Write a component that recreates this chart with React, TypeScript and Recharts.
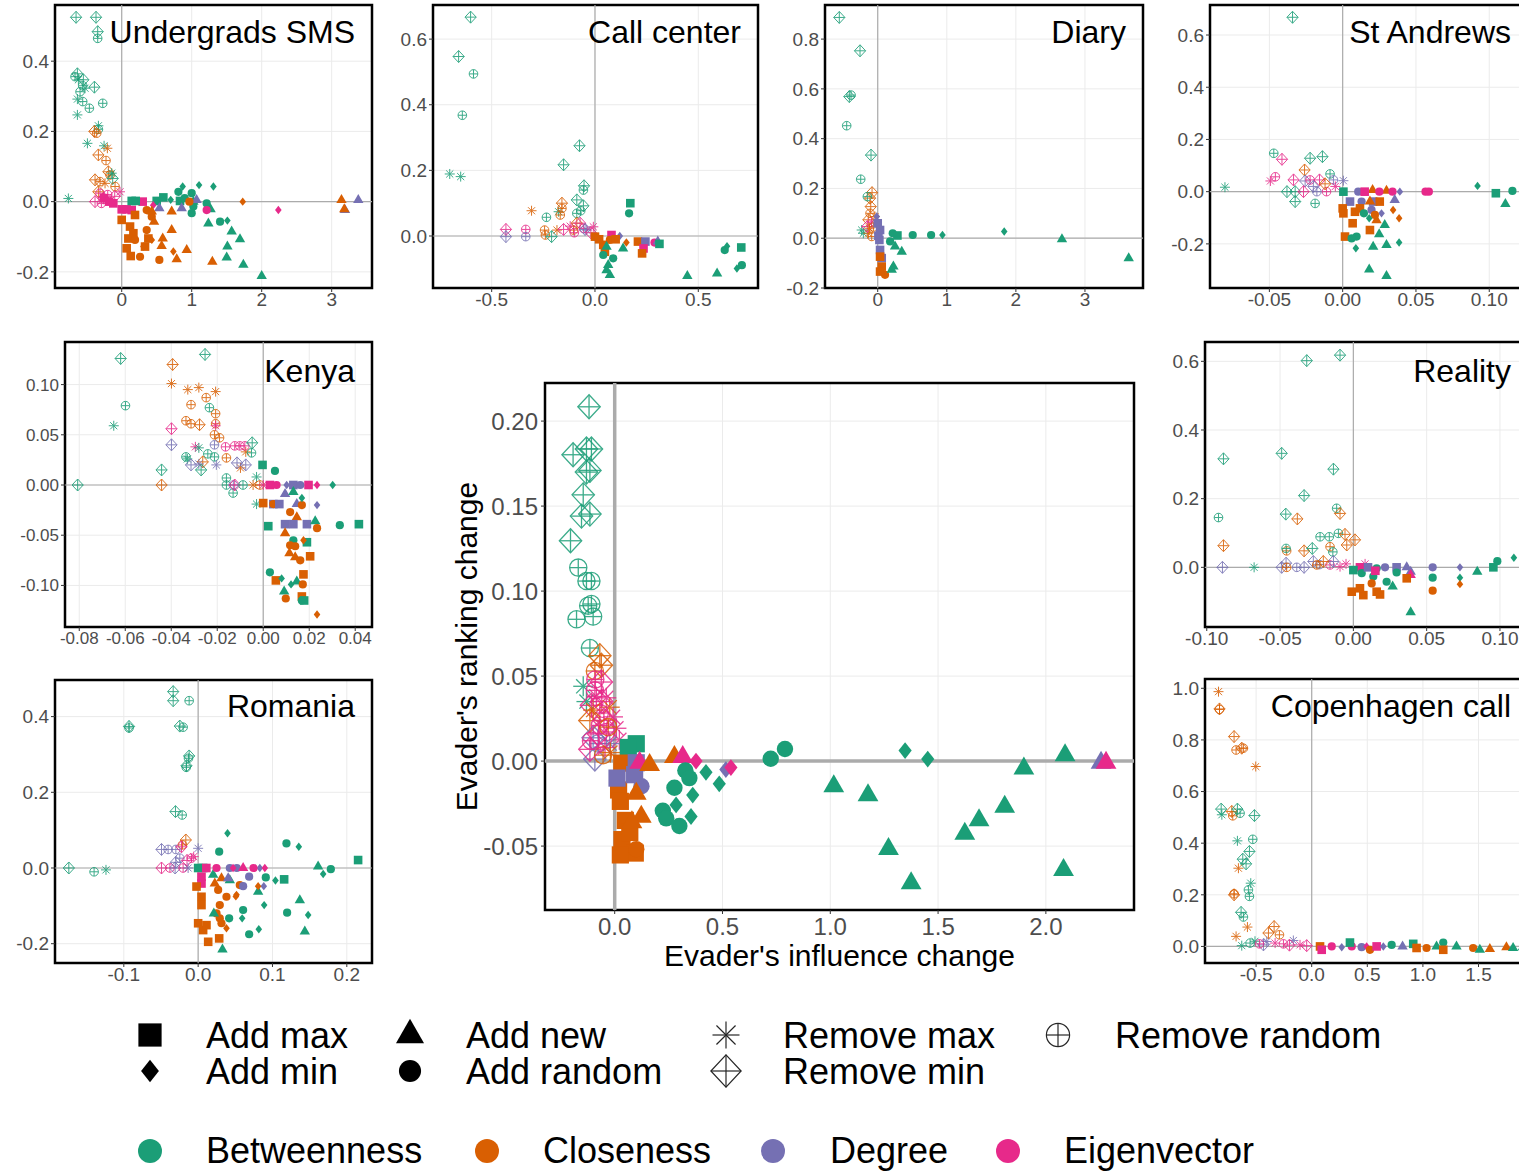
import React from 'react';
import { ScatterChart, Scatter, XAxis, YAxis, CartesianGrid, ReferenceLine, ReferenceArea, Label } from 'recharts';

type Pt = [number, number, string, string];

// centrality colours
const COLORS: Record<string, string> = { B: '#1B9E77', C: '#D95F02', D: '#7570B3', E: '#E7298A' };
// sq add max, di add min, tr add new, ci add random, as remove max, dp remove min, cp remove random
const actionNames = ['Add max', 'Add min', 'Add new', 'Add random', 'Remove max', 'Remove min', 'Remove random'];
const actionShapes = ['sq', 'di', 'tr', 'ci', 'as', 'dp', 'cp'];
const centralityNames = ['Betweenness', 'Closeness', 'Degree', 'Eigenvector'];
const centralityKeys = ['B', 'C', 'D', 'E'];

const undergradsSms: Pt[] = [
  [-0.652, 0.525, 'dp', 'B'], [-0.367, 0.525, 'dp', 'B'], [-0.343, 0.484, 'dp', 'B'], [-0.343, 0.465, 'cp', 'B'],
  [-0.633, 0.364, 'dp', 'B'], [-0.667, 0.356, 'cp', 'B'], [-0.619, 0.347, 'as', 'B'], [-0.548, 0.347, 'dp', 'B'],
  [-0.557, 0.33, 'cp', 'B'], [-0.39, 0.326, 'dp', 'B'], [-0.524, 0.323, 'as', 'B'], [-0.595, 0.313, 'cp', 'B'],
  [-0.633, 0.292, 'as', 'B'], [-0.557, 0.285, 'cp', 'B'], [-0.462, 0.266, 'cp', 'B'], [-0.271, 0.28, 'cp', 'B'],
  [-0.633, 0.247, 'as', 'B'], [-0.333, 0.216, 'as', 'B'], [-0.333, 0.206, 'cp', 'B'], [-0.49, 0.166, 'as', 'B'],
  [-0.252, 0.159, 'as', 'B'], [-0.39, 0.2, 'dp', 'C'], [-0.357, 0.195, 'cp', 'C'], [-0.205, 0.152, 'as', 'C'],
  [-0.333, 0.133, 'dp', 'C'], [-0.224, 0.117, 'cp', 'C'], [-0.19, 0.085, 'dp', 'C'], [-0.167, 0.076, 'cp', 'C'],
  [-0.143, 0.081, 'as', 'B'], [-0.129, 0.066, 'dp', 'B'], [-0.381, 0.062, 'dp', 'C'], [-0.31, 0.057, 'cp', 'C'],
  [-0.238, 0.052, 'as', 'C'], [-0.333, 0.028, 'dp', 'C'], [-0.095, 0.043, 'cp', 'C'], [-0.762, 0.009, 'as', 'B'],
  [-0.381, 0, 'dp', 'E'], [-0.31, 0.024, 'cp', 'E'], [-0.024, 0.028, 'as', 'E'], [-0.26, 0.01, 'dp', 'E'],
  [-0.2, 0.02, 'cp', 'E'], [-0.15, 0.005, 'as', 'E'], [-0.1, 0.015, 'dp', 'E'], [-0.29, -0.005, 'cp', 'E'],
  [-0.25, 0.01, 'sq', 'E'], [-0.18, 0, 'sq', 'E'], [-0.12, -0.005, 'sq', 'E'], [0, -0.022, 'sq', 'E'],
  [0.07, -0.022, 'sq', 'E'], [0.143, -0.024, 'sq', 'E'], [0.3, 0, 'sq', 'E'],
  [0.143, 0.002, 'sq', 'B'], [0.2, 0.002, 'sq', 'B'], [0.5, 0.002, 'sq', 'B'], [0.595, 0.012, 'sq', 'B'], [0.833, 0.002, 'sq', 'B'],
  [0.81, 0.028, 'ci', 'B'], [1.0, 0.024, 'ci', 'B'], [1.024, -0.014, 'ci', 'B'], [1.0, -0.033, 'ci', 'B'],
  [1.214, -0.005, 'ci', 'B'], [1.405, -0.057, 'ci', 'B'], [0.9, 0.01, 'ci', 'B'],
  [0.871, 0.043, 'di', 'B'], [1.105, 0.047, 'di', 'B'], [1.31, 0.043, 'di', 'B'], [1.51, -0.054, 'di', 'B'], [0.7, 0.005, 'di', 'B'],
  [1.024, 0, 'tr', 'B'], [1.27, -0.022, 'tr', 'B'], [1.238, -0.062, 'tr', 'B'], [1.571, -0.085, 'tr', 'B'],
  [1.69, -0.107, 'tr', 'B'], [1.51, -0.128, 'tr', 'B'], [1.5, -0.159, 'tr', 'B'], [1.738, -0.18, 'tr', 'B'], [2.0, -0.212, 'tr', 'B'],
  [1.07, 0.005, 'tr', 'D'], [0.857, -0.019, 'tr', 'D'], [0.538, -0.019, 'tr', 'D'], [3.19, -0.024, 'tr', 'D'], [3.38, 0.005, 'tr', 'D'],
  [0.967, 0, 'ci', 'C'], [1.729, 0, 'di', 'C'], [3.14, 0.005, 'tr', 'C'], [3.18, -0.022, 'tr', 'C'],
  [2.238, -0.024, 'di', 'E'], [1.214, -0.024, 'ci', 'E'], [0.45, -0.01, 'di', 'E'],
  [0, -0.052, 'sq', 'C'], [0.119, -0.071, 'sq', 'C'], [0.167, -0.09, 'sq', 'C'], [0.095, -0.105, 'sq', 'C'],
  [0.071, -0.133, 'sq', 'C'], [0.129, -0.155, 'sq', 'C'], [0.19, -0.038, 'sq', 'C'], [0.333, -0.128, 'sq', 'C'], [0.381, -0.105, 'sq', 'C'],
  [0.19, -0.109, 'ci', 'C'], [0.262, -0.157, 'ci', 'C'], [0.357, -0.024, 'ci', 'C'], [0.357, -0.081, 'ci', 'C'],
  [0.538, -0.166, 'ci', 'C'], [0.429, -0.043, 'ci', 'C'],
  [0.31, -0.128, 'di', 'C'], [0.43, -0.109, 'di', 'C'], [0.738, -0.142, 'di', 'C'],
  [0.462, -0.057, 'tr', 'C'], [0.586, -0.105, 'tr', 'C'], [0.571, -0.126, 'tr', 'C'], [0.714, -0.028, 'tr', 'C'],
  [0.714, -0.081, 'tr', 'C'], [0.786, -0.164, 'tr', 'C'], [0.929, -0.138, 'tr', 'C'], [1.295, -0.171, 'tr', 'C'], [0.43, -0.028, 'tr', 'C'],
];

const callCenter: Pt[] = [
  [-0.602, 0.667, 'dp', 'B'], [-0.66, 0.547, 'dp', 'B'], [-0.588, 0.494, 'cp', 'B'], [-0.642, 0.368, 'cp', 'B'],
  [-0.703, 0.189, 'as', 'B'], [-0.65, 0.181, 'as', 'B'],
  [-0.075, 0.275, 'dp', 'B'], [-0.152, 0.217, 'dp', 'B'], [-0.053, 0.153, 'dp', 'B'], [-0.056, 0.14, 'cp', 'B'],
  [-0.088, 0.11, 'dp', 'B'], [-0.056, 0.092, 'dp', 'B'], [-0.069, 0.077, 'cp', 'B'], [-0.088, 0.069, 'cp', 'B'],
  [-0.235, 0.057, 'cp', 'B'], [-0.176, 0.074, 'as', 'B'],
  [-0.307, 0.077, 'as', 'C'], [-0.16, 0.1, 'dp', 'C'], [-0.16, 0.084, 'cp', 'C'], [-0.168, 0.064, 'cp', 'C'],
  [-0.184, 0.018, 'as', 'C'], [-0.088, 0.039, 'dp', 'C'], [-0.104, 0.018, 'cp', 'C'],
  [-0.431, 0.02, 'dp', 'E'], [-0.431, -0.002, 'dp', 'D'], [-0.335, 0.02, 'cp', 'E'], [-0.335, -0.002, 'cp', 'D'],
  [-0.244, 0.018, 'cp', 'C'], [-0.24, 0.003, 'cp', 'C'], [-0.21, -0.002, 'dp', 'B'], [-0.152, 0.02, 'dp', 'E'],
  [-0.008, 0.028, 'as', 'E'], [-0.072, 0.039, 'dp', 'E'], [-0.056, 0.023, 'cp', 'E'], [-0.048, 0.02, 'dp', 'D'],
  [-0.04, 0.018, 'as', 'D'], [-0.1, 0.01, 'cp', 'E'], [-0.02, 0.01, 'dp', 'E'], [-0.12, 0.03, 'as', 'E'],
  [0, -0.002, 'sq', 'C'], [0.04, -0.027, 'sq', 'C'], [0.048, -0.048, 'sq', 'C'], [0.08, 0.003, 'sq', 'E'],
  [0.072, -0.012, 'ci', 'C'], [0.12, 0, 'di', 'D'], [0.152, -0.02, 'di', 'C'], [0.056, -0.033, 'tr', 'B'],
  [0.136, -0.038, 'tr', 'B'], [0.04, -0.058, 'ci', 'B'], [0.088, -0.068, 'ci', 'B'], [0.064, -0.088, 'tr', 'B'],
  [0.056, -0.104, 'tr', 'B'], [0.072, -0.119, 'tr', 'B'], [0.1, -0.01, 'sq', 'C'], [0.02, -0.01, 'sq', 'C'],
  [0.208, -0.017, 'sq', 'C'], [0.244, -0.017, 'sq', 'D'], [0.235, -0.038, 'sq', 'E'], [0.228, -0.053, 'sq', 'C'],
  [0.288, -0.02, 'ci', 'E'], [0.304, -0.017, 'tr', 'D'], [0.312, -0.024, 'sq', 'B'],
  [0.171, 0.1, 'sq', 'B'], [0.165, 0.069, 'ci', 'B'],
  [0.447, -0.122, 'tr', 'B'], [0.591, -0.114, 'tr', 'B'], [0.628, -0.043, 'ci', 'B'], [0.639, -0.031, 'di', 'B'],
  [0.708, -0.035, 'sq', 'B'], [0.711, -0.089, 'ci', 'B'], [0.687, -0.099, 'di', 'B'],
];

const diary: Pt[] = [
  [-0.556, 0.887, 'dp', 'B'], [-0.256, 0.753, 'dp', 'B'], [-0.411, 0.569, 'dp', 'B'], [-0.386, 0.575, 'cp', 'B'],
  [-0.449, 0.452, 'cp', 'B'], [-0.097, 0.334, 'dp', 'B'], [-0.246, 0.237, 'cp', 'B'],
  [-0.082, 0.183, 'dp', 'C'], [-0.111, 0.161, 'dp', 'C'], [-0.15, 0.167, 'cp', 'B'],
  [-0.101, 0.127, 'dp', 'C'], [-0.111, 0.1, 'cp', 'C'], [-0.039, 0.087, 'as', 'C'], [-0.135, 0.074, 'dp', 'C'],
  [-0.232, 0.033, 'as', 'B'], [-0.208, 0.02, 'as', 'B'], [-0.135, 0.02, 'as', 'C'], [-0.087, 0.007, 'cp', 'C'],
  [-0.15, 0.047, 'dp', 'E'], [-0.09, 0.065, 'as', 'E'], [-0.06, 0.045, 'cp', 'C'], [-0.12, 0.04, 'as', 'C'],
  [0.034, 0.033, 'sq', 'D'], [0.024, -0.007, 'sq', 'D'], [0.034, -0.047, 'sq', 'D'], [-0.014, 0.087, 'di', 'D'],
  [0.058, -0.08, 'sq', 'D'], [0.0, 0.06, 'sq', 'D'], [0.01, 0.01, 'sq', 'D'],
  [0.034, -0.074, 'sq', 'C'], [0.058, -0.114, 'sq', 'C'], [0.106, -0.147, 'ci', 'C'], [0.034, -0.134, 'sq', 'C'],
  [0.217, 0.02, 'ci', 'B'], [0.285, 0.011, 'sq', 'B'], [0.507, 0.013, 'ci', 'B'], [0.773, 0.013, 'ci', 'B'],
  [0.937, 0.013, 'di', 'B'], [1.831, 0.027, 'di', 'B'], [2.667, -0.004, 'tr', 'B'], [3.633, -0.08, 'tr', 'B'],
  [0.227, -0.114, 'tr', 'B'], [0.203, -0.127, 'tr', 'B'], [0.348, -0.054, 'tr', 'B'], [0.251, -0.033, 'tr', 'B'],
  [0.179, -0.013, 'ci', 'B'],
];

const stAndrews: Pt[] = [
  [-0.0342, 0.668, 'dp', 'B'], [-0.0803, 0.017, 'as', 'B'],
  [-0.047, 0.147, 'cp', 'B'], [-0.0414, 0.124, 'dp', 'E'], [-0.0459, 0.057, 'cp', 'E'], [-0.0493, 0.041, 'as', 'E'],
  [-0.0335, 0.045, 'dp', 'E'], [-0.038, 0, 'dp', 'B'], [-0.0324, 0, 'dp', 'B'], [-0.0324, -0.038, 'dp', 'B'],
  [-0.0188, -0.045, 'cp', 'B'], [-0.026, 0.083, 'dp', 'C'], [-0.0222, 0.128, 'dp', 'B'], [-0.0138, 0.134, 'dp', 'B'],
  [-0.0086, 0.068, 'cp', 'B'], [-0.0256, 0.041, 'dp', 'D'], [-0.0222, 0.045, 'cp', 'E'], [-0.0158, 0.045, 'dp', 'E'],
  [-0.0063, 0.045, 'cp', 'D'], [0.0005, 0.042, 'as', 'D'], [-0.0267, 0, 'dp', 'E'], [-0.0176, 0, 'cp', 'D'],
  [-0.011, 0, 'cp', 'E'], [-0.02, 0.02, 'dp', 'D'], [-0.005, 0.02, 'as', 'E'], [-0.012, 0.03, 'dp', 'C'],
  [0.0005, 0, 'sq', 'B'], [0.0106, 0, 'ci', 'D'], [0.0204, 0.006, 'tr', 'C'], [0.0299, 0.004, 'tr', 'C'],
  [0.034, 0, 'ci', 'E'], [0.039, 0, 'di', 'D'], [0.0588, 0, 'ci', 'E'], [0.0565, 0, 'ci', 'E'], [0.015, 0, 'sq', 'E'], [0.025, 0, 'ci', 'E'],
  [0.092, 0.022, 'di', 'B'], [0.1045, -0.006, 'sq', 'B'], [0.1158, 0.003, 'ci', 'B'], [0.111, -0.047, 'tr', 'B'],
  [0.005, -0.038, 'sq', 'D'], [0.0129, -0.038, 'ci', 'D'], [0.0208, -0.038, 'sq', 'D'], [0.0355, -0.032, 'tr', 'D'],
  [0.0265, -0.083, 'di', 'D'], [0.0197, -0.07, 'ci', 'D'],
  [0, -0.064, 'sq', 'C'], [0.0005, -0.083, 'sq', 'C'], [0.0084, -0.077, 'sq', 'C'], [0.0068, -0.121, 'sq', 'C'],
  [0.0186, -0.147, 'sq', 'C'], [0.0016, -0.172, 'sq', 'C'], [0.0118, -0.064, 'sq', 'C'], [0.0186, -0.038, 'tr', 'C'],
  [0.0231, -0.109, 'tr', 'C'], [0.0344, -0.07, 'di', 'C'], [0.0385, -0.102, 'di', 'C'], [0.022, -0.089, 'ci', 'C'],
  [0.0253, -0.038, 'sq', 'C'],
  [0.0095, -0.172, 'ci', 'B'], [0.0061, -0.179, 'ci', 'B'], [0.009, -0.217, 'di', 'B'], [0.0208, -0.211, 'tr', 'B'],
  [0.0299, -0.204, 'tr', 'B'], [0.0385, -0.195, 'di', 'B'], [0.0181, -0.298, 'tr', 'B'], [0.0299, -0.323, 'tr', 'B'],
  [0.0249, -0.163, 'tr', 'B'], [0.0287, -0.128, 'tr', 'B'], [0.0181, -0.102, 'di', 'B'], [0.0145, -0.083, 'ci', 'B'],
];

const kenya: Pt[] = [
  [-0.0807, 0, 'dp', 'B'], [-0.062, 0.126, 'dp', 'B'], [-0.0599, 0.079, 'cp', 'B'], [-0.065, 0.059, 'as', 'B'],
  [-0.0253, 0.13, 'dp', 'B'],
  [-0.0394, 0.12, 'dp', 'C'], [-0.0399, 0.101, 'as', 'C'], [-0.0328, 0.095, 'as', 'C'], [-0.028, 0.097, 'as', 'C'],
  [-0.0207, 0.093, 'as', 'C'], [-0.0248, 0.087, 'cp', 'C'], [-0.0314, 0.08, 'cp', 'C'], [-0.0207, 0.071, 'cp', 'C'],
  [-0.0336, 0.064, 'cp', 'C'], [-0.0314, 0.061, 'cp', 'C'], [-0.0277, 0.06, 'dp', 'C'], [-0.0207, 0.061, 'cp', 'C'],
  [-0.0212, 0.05, 'cp', 'C'], [-0.019, 0.047, 'cp', 'C'], [-0.016, 0.027, 'cp', 'C'], [-0.0099, 0.017, 'as', 'C'],
  [-0.0076, 0.033, 'as', 'C'], [-0.0442, 0, 'dp', 'C'], [-0.0263, 0.023, 'dp', 'C'],
  [-0.0399, 0.056, 'dp', 'E'], [-0.0207, 0.059, 'as', 'E'], [-0.0295, 0.038, 'as', 'E'], [-0.0164, 0.038, 'cp', 'E'],
  [-0.0124, 0.039, 'cp', 'E'], [-0.0102, 0.039, 'cp', 'E'], [-0.008, 0.039, 'cp', 'E'],
  [-0.0234, 0.077, 'cp', 'B'], [-0.0336, 0.028, 'cp', 'B'], [-0.033, 0.026, 'as', 'B'], [-0.0241, 0.031, 'cp', 'B'],
  [-0.0212, 0.028, 'cp', 'B'], [-0.027, 0.015, 'dp', 'B'], [-0.0442, 0.015, 'dp', 'B'], [-0.0051, 0.032, 'cp', 'B'],
  [-0.0048, 0.042, 'dp', 'B'], [-0.016, 0.007, 'cp', 'B'], [-0.0131, -0.008, 'cp', 'B'], [-0.0029, 0.008, 'as', 'B'],
  [-0.0029, -0.019, 'as', 'B'], [-0.028, 0.037, 'as', 'B'],
  [-0.0399, 0.04, 'dp', 'D'], [-0.0212, 0.04, 'cp', 'D'], [-0.0204, 0.02, 'as', 'D'], [-0.0314, 0.02, 'dp', 'D'],
  [-0.028, 0.021, 'as', 'D'], [-0.0114, 0.022, 'dp', 'D'], [-0.0076, 0.02, 'dp', 'D'],
  [-0.016, 0, 'cp', 'B'], [-0.013, 0, 'cp', 'D'], [-0.0124, 0, 'dp', 'E'], [-0.0088, 0, 'cp', 'B'],
  [-0.0044, 0, 'as', 'C'], [-0.0015, 0, 'cp', 'C'], [0, 0, 'as', 'E'],
  [0.0029, 0, 'sq', 'E'], [0.0058, 0, 'ci', 'E'], [0.0102, 0, 'di', 'D'], [0.0131, 0, 'sq', 'D'], [0.0161, 0, 'ci', 'D'],
  [0.0197, 0, 'sq', 'E'], [0.0234, 0, 'di', 'E'], [0.0302, 0, 'di', 'B'],
  [-0.0003, 0.02, 'sq', 'B'], [0.0051, 0.014, 'ci', 'B'],
  [0, -0.018, 'sq', 'C'], [0.0044, -0.019, 'sq', 'D'], [0.0095, -0.009, 'tr', 'D'], [0.0146, -0.019, 'tr', 'D'],
  [0.0234, -0.02, 'di', 'D'], [0.0044, -0.019, 'ci', 'C'], [0.0131, -0.007, 'tr', 'B'], [0.0117, -0.027, 'ci', 'C'],
  [0.0146, -0.032, 'tr', 'C'], [0.0168, -0.02, 'ci', 'C'], [0.0168, -0.013, 'di', 'B'], [0.007, -0.019, 'sq', 'D'],
  [0.0095, -0.039, 'sq', 'D'], [0.0131, -0.039, 'sq', 'D'], [0.019, -0.039, 'sq', 'D'], [0.0226, -0.036, 'tr', 'B'],
  [0.0234, -0.043, 'ci', 'C'], [0.0333, -0.04, 'ci', 'B'], [0.0416, -0.039, 'sq', 'B'], [0.0022, -0.041, 'sq', 'B'],
  [0.0095, -0.048, 'tr', 'C'], [0.0131, -0.055, 'ci', 'B'], [0.019, -0.057, 'sq', 'B'], [0.0175, -0.055, 'di', 'C'],
  [0.0117, -0.06, 'ci', 'C'], [0.0139, -0.061, 'ci', 'C'], [0.0114, -0.068, 'tr', 'C'], [0.0161, -0.075, 'ci', 'C'],
  [0.0139, -0.072, 'tr', 'C'], [0.0204, -0.071, 'sq', 'C'],
  [0.0175, -0.089, 'sq', 'C'], [0.0029, -0.087, 'ci', 'B'], [0.0055, -0.095, 'sq', 'C'], [0.008, -0.093, 'di', 'B'],
  [0.0121, -0.099, 'di', 'B'], [0.0146, -0.096, 'tr', 'B'], [0.0172, -0.099, 'ci', 'C'], [0.0091, -0.106, 'tr', 'B'],
  [0.0098, -0.113, 'ci', 'C'], [0.0168, -0.111, 'sq', 'C'], [0.0168, -0.115, 'ci', 'B'], [0.0178, -0.115, 'sq', 'B'],
  [0.0234, -0.129, 'di', 'C'],
];

const romania: Pt[] = [
  [-0.174, 0, 'dp', 'B'], [-0.14, -0.01, 'cp', 'B'], [-0.124, -0.005, 'as', 'B'],
  [-0.093, 0.374, 'dp', 'B'], [-0.093, 0.37, 'cp', 'B'],
  [-0.0336, 0.466, 'dp', 'B'], [-0.0336, 0.442, 'dp', 'B'], [-0.0121, 0.442, 'cp', 'B'], [-0.0247, 0.375, 'dp', 'B'],
  [-0.0202, 0.372, 'cp', 'B'], [-0.0121, 0.296, 'dp', 'B'], [-0.013, 0.29, 'cp', 'B'], [-0.0157, 0.27, 'dp', 'B'],
  [-0.016, 0.266, 'cp', 'B'], [-0.0305, 0.149, 'dp', 'B'], [-0.0215, 0.14, 'cp', 'B'],
  [-0.0166, 0.074, 'dp', 'C'], [-0.0211, 0.061, 'cp', 'C'],
  [-0.0493, 0.049, 'dp', 'D'], [-0.0404, 0.049, 'cp', 'D'], [-0.03, 0.049, 'cp', 'D'], [-0.0224, 0.056, 'dp', 'E'],
  [0, 0.052, 'as', 'D'], [-0.0247, 0.026, 'cp', 'D'], [-0.009, 0.026, 'cp', 'E'], [-0.006, 0.03, 'as', 'E'],
  [-0.015, 0.02, 'dp', 'E'], [-0.03, 0.015, 'dp', 'D'],
  [-0.0493, 0, 'dp', 'E'], [-0.038, 0, 'cp', 'E'], [-0.031, 0, 'dp', 'D'], [-0.0202, 0, 'cp', 'E'], [-0.0135, 0, 'as', 'D'],
  [0, 0, 'sq', 'B'], [0.0067, 0, 'sq', 'B'], [0.0045, -0.023, 'sq', 'E'], [0.0045, -0.041, 'sq', 'E'],
  [-0.0022, -0.049, 'sq', 'C'], [0.0045, -0.076, 'sq', 'C'], [0.0045, -0.098, 'sq', 'C'], [0, -0.146, 'sq', 'C'],
  [0.0067, -0.164, 'sq', 'C'], [0.0135, -0.195, 'sq', 'C'], [0.0112, -0.151, 'sq', 'C'], [0.0283, -0.186, 'sq', 'C'],
  [0.0269, -0.058, 'ci', 'C'], [0.0291, -0.098, 'ci', 'C'], [0.0291, -0.133, 'ci', 'C'], [0.0224, -0.041, 'tr', 'C'],
  [0.0314, -0.027, 'tr', 'C'], [0.0381, -0.076, 'ci', 'C'], [0.056, -0.045, 'ci', 'C'], [0.0516, -0.071, 'di', 'C'],
  [0.0381, -0.159, 'di', 'C'], [0.0247, -0.12, 'ci', 'C'], [0.0314, -0.146, 'ci', 'C'],
  [0.0283, 0.043, 'ci', 'B'], [0.0395, 0.092, 'di', 'B'], [0.1188, 0.065, 'ci', 'B'], [0.1354, 0.056, 'di', 'B'],
  [0.1785, -0.003, 'ci', 'B'], [0.1614, 0.004, 'tr', 'B'], [0.1682, -0.016, 'di', 'B'], [0.2152, 0.021, 'sq', 'B'],
  [0.104, -0.033, 'di', 'B'], [0.1157, -0.03, 'sq', 'B'], [0.091, -0.025, 'ci', 'B'], [0.0807, -0.063, 'tr', 'B'],
  [0.1368, -0.085, 'tr', 'B'], [0.148, -0.124, 'di', 'B'], [0.1435, -0.168, 'tr', 'B'], [0.1197, -0.118, 'ci', 'B'],
  [0.0686, -0.175, 'ci', 'B'], [0.0816, -0.162, 'di', 'B'], [0.0888, -0.098, 'di', 'B'], [0.0605, -0.111, 'ci', 'B'],
  [0.0592, -0.133, 'di', 'B'], [0.0417, -0.133, 'ci', 'B'], [0.0211, -0.12, 'tr', 'B'], [0.0327, -0.215, 'tr', 'B'],
  [0.0426, -0.032, 'tr', 'B'], [0.0202, -0.018, 'tr', 'B'],
  [0.0426, 0, 'ci', 'D'], [0.0686, -0.023, 'ci', 'D'], [0.0605, -0.048, 'ci', 'D'], [0.0883, -0.048, 'di', 'D'],
  [0.083, 0, 'di', 'D'], [0.0404, -0.027, 'tr', 'D'], [0.052, 0, 'ci', 'D'],
  [0.011, 0, 'sq', 'E'], [0.0247, 0, 'ci', 'E'], [0.047, 0, 'di', 'E'], [0.0605, 0, 'tr', 'E'], [0.0897, 0, 'di', 'E'],
  [0.0745, 0, 'ci', 'E'], [0.0807, -0.048, 'di', 'C'], [0.0507, -0.075, 'di', 'C'],
];

const center: Pt[] = [
  [-0.119, 0.2084, 'dp', 'B'], [-0.193, 0.1802, 'dp', 'B'], [-0.131, 0.1836, 'dp', 'B'], [-0.108, 0.1836, 'dp', 'B'],
  [-0.131, 0.17, 'dp', 'B'], [-0.115, 0.171, 'dp', 'B'], [-0.146, 0.1566, 'dp', 'B'], [-0.115, 0.1453, 'dp', 'B'],
  [-0.154, 0.1441, 'dp', 'B'], [-0.205, 0.1296, 'dp', 'B'],
  [-0.169, 0.1138, 'cp', 'B'], [-0.108, 0.1059, 'cp', 'B'], [-0.131, 0.1059, 'cp', 'B'], [-0.108, 0.0924, 'cp', 'B'],
  [-0.123, 0.0914, 'cp', 'B'], [-0.177, 0.0834, 'cp', 'B'], [-0.1, 0.085, 'cp', 'B'], [-0.115, 0.0665, 'cp', 'B'],
  [-0.069, 0.062, 'dp', 'C'], [-0.062, 0.0564, 'dp', 'C'], [-0.092, 0.053, 'cp', 'C'],
  [-0.146, 0.044, 'as', 'B'], [-0.131, 0.035, 'as', 'B'],
  [-0.062, 0.0465, 'dp', 'E'], [-0.092, 0.0416, 'cp', 'E'], [-0.039, 0.0372, 'as', 'E'], [-0.108, 0.0328, 'dp', 'E'],
  [-0.023, 0.0317, 'as', 'C'], [-0.069, 0.0283, 'cp', 'E'], [-0.0077, 0.026, 'as', 'E'], [-0.115, 0.0238, 'dp', 'C'],
  [0.008, 0.0193, 'as', 'E'], [-0.039, 0.0171, 'cp', 'E'], [-0.1, 0.0137, 'dp', 'D'], [0.0216, 0.0125, 'as', 'E'],
  [-0.077, 0.0103, 'cp', 'D'], [-0.092, 0.0012, 'dp', 'D'], [-0.054, 0.0035, 'cp', 'C'], [-0.023, 0.0103, 'as', 'D'],
  [-0.115, 0.0069, 'dp', 'E'], [-0.069, 0.021, 'cp', 'E'], [-0.085, 0.038, 'as', 'E'], [-0.05, 0.024, 'dp', 'E'],
  [-0.1, 0.03, 'as', 'C'], [-0.03, 0.02, 'cp', 'C'], [-0.075, 0.016, 'dp', 'E'], [-0.045, 0.008, 'as', 'E'],
  [-0.11, 0.012, 'cp', 'E'], [-0.06, 0.035, 'dp', 'E'], [-0.02, 0.005, 'as', 'C'], [-0.09, 0.048, 'cp', 'E'],
  [0.1, 0.0102, 'sq', 'B'], [0.063, 0.008, 'sq', 'B'],
  [0.033, -0.0012, 'sq', 'C'], [0.018, -0.017, 'sq', 'C'], [0.0108, -0.01, 'sq', 'D'], [0.1, -0.001, 'sq', 'D'],
  [0.124, -0.0148, 'ci', 'D'], [0.0924, -0.008, 'sq', 'D'], [0.0262, -0.0237, 'sq', 'C'], [0.0493, -0.0349, 'sq', 'C'],
  [0.0339, -0.0462, 'sq', 'C'], [0.0955, -0.0541, 'sq', 'C'], [0.0262, -0.0552, 'sq', 'C'], [0.1232, -0.0327, 'tr', 'C'],
  [0.1, -0.0192, 'tr', 'C'], [0.07, -0.042, 'sq', 'C'], [0.08, -0.036, 'tr', 'C'], [0.1, -0.0518, 'ci', 'C'],
  [0.1155, -0.001, 'tr', 'E'], [0.162, -0.0023, 'tr', 'C'], [0.277, 0.0024, 'tr', 'C'], [0.3155, 0.0024, 'tr', 'E'],
  [0.3772, 0, 'di', 'E'], [0.5157, -0.005, 'di', 'D'], [0.539, -0.0038, 'di', 'E'],
  [0.3278, -0.0055, 'ci', 'B'], [0.277, -0.0157, 'ci', 'B'], [0.2232, -0.0292, 'ci', 'B'], [0.239, -0.0337, 'ci', 'B'],
  [0.3, -0.0382, 'ci', 'B'], [0.2848, -0.0258, 'di', 'B'], [0.354, -0.0326, 'di', 'B'], [0.4234, -0.0066, 'di', 'B'],
  [0.485, -0.0134, 'di', 'B'], [0.3464, -0.01, 'ci', 'B'], [0.362, -0.02, 'di', 'B'], [0.7236, 0.0014, 'ci', 'B'],
  [0.7898, 0.0071, 'ci', 'B'], [1.0162, -0.0148, 'tr', 'B'],
  [1.347, 0.0062, 'di', 'B'], [1.452, 0.0012, 'di', 'B'], [1.175, -0.0201, 'tr', 'B'], [1.27, -0.0517, 'tr', 'B'],
  [1.375, -0.0719, 'tr', 'B'], [1.624, -0.0427, 'tr', 'B'], [1.69, -0.0348, 'tr', 'B'], [1.809, -0.0269, 'tr', 'B'],
  [1.898, -0.0044, 'tr', 'B'], [2.089, 0.0035, 'tr', 'B'], [2.082, -0.064, 'tr', 'B'], [2.256, -0.001, 'tr', 'D'],
  [2.279, -0.001, 'tr', 'E'],
];

const reality: Pt[] = [
  [-0.0091, 0.618, 'dp', 'B'], [-0.0318, 0.602, 'dp', 'B'], [-0.0489, 0.332, 'dp', 'B'], [-0.0136, 0.286, 'dp', 'B'],
  [-0.0886, 0.316, 'dp', 'B'], [-0.092, 0.145, 'cp', 'B'], [-0.0336, 0.209, 'dp', 'B'], [-0.0114, 0.172, 'cp', 'B'],
  [-0.0461, 0.155, 'dp', 'B'], [-0.0091, 0.157, 'dp', 'C'], [-0.0382, 0.141, 'dp', 'C'],
  [-0.0227, 0.089, 'cp', 'B'], [-0.0164, 0.089, 'cp', 'B'], [-0.0102, 0.099, 'cp', 'B'], [-0.0057, 0.096, 'dp', 'C'],
  [0.0011, 0.08, 'dp', 'C'], [-0.0045, 0.065, 'dp', 'C'], [-0.0159, 0.06, 'cp', 'C'], [-0.0336, 0.048, 'dp', 'C'],
  [-0.0455, 0.048, 'cp', 'C'], [-0.028, 0.055, 'dp', 'B'], [-0.0459, 0.055, 'cp', 'B'], [-0.014, 0.045, 'cp', 'B'],
  [-0.0886, 0.063, 'dp', 'C'],
  [-0.0893, 0, 'dp', 'D'], [-0.0677, 0, 'as', 'B'], [-0.0489, 0, 'dp', 'D'], [-0.0459, 0.012, 'dp', 'D'],
  [-0.0386, 0, 'cp', 'D'], [-0.0336, 0, 'dp', 'D'], [-0.0455, 0, 'cp', 'C'], [-0.0273, 0.017, 'dp', 'D'],
  [-0.023, 0.008, 'cp', 'D'], [-0.0159, 0.007, 'cp', 'E'], [-0.0136, 0.017, 'dp', 'D'], [-0.0091, 0.002, 'as', 'E'],
  [-0.025, 0.007, 'cp', 'C'], [-0.0205, 0.017, 'dp', 'C'], [-0.005, 0.01, 'as', 'E'], [0.008, 0.01, 'as', 'E'],
  [0.0045, 0, 'sq', 'E'], [0, -0.008, 'sq', 'B'], [0.0057, -0.017, 'ci', 'B'], [0.0159, -0.003, 'ci', 'B'],
  [0.0136, -0.027, 'ci', 'B'], [0.0216, 0, 'ci', 'D'], [0.0295, 0, 'sq', 'D'], [0.0364, 0, 'tr', 'D'],
  [0.0391, -0.013, 'tr', 'D'], [0.0391, -0.022, 'tr', 'E'], [0.0295, -0.015, 'ci', 'B'], [0.0268, -0.056, 'tr', 'B'],
  [0.0227, -0.042, 'ci', 'B'], [0.01, 0, 'sq', 'D'], [0.015, -0.01, 'sq', 'E'],
  [-0.0011, -0.071, 'sq', 'C'], [0.0068, -0.081, 'sq', 'C'], [0.0045, -0.061, 'sq', 'C'], [0.0159, -0.071, 'sq', 'C'],
  [0.0182, -0.079, 'sq', 'C'], [0.0125, -0.047, 'ci', 'C'], [0.0364, -0.032, 'sq', 'C'],
  [0.0541, 0, 'ci', 'D'], [0.0541, -0.03, 'ci', 'B'], [0.0541, -0.068, 'ci', 'C'], [0.0727, 0, 'di', 'D'],
  [0.0727, -0.03, 'di', 'B'], [0.0727, -0.049, 'di', 'C'], [0.0845, -0.013, 'tr', 'B'], [0.0955, 0, 'sq', 'B'],
  [0.0982, 0.018, 'ci', 'B'], [0.1095, 0.028, 'di', 'B'], [0.0391, -0.131, 'tr', 'B'],
];

const copenhagenCall: Pt[] = [
  [-0.838, 0.987, 'as', 'C'], [-0.829, 0.92, 'dp', 'C'], [-0.829, 0.918, 'cp', 'C'],
  [-0.698, 0.813, 'dp', 'C'], [-0.68, 0.761, 'cp', 'C'], [-0.629, 0.768, 'dp', 'C'], [-0.614, 0.768, 'cp', 'C'],
  [-0.503, 0.697, 'as', 'C'],
  [-0.814, 0.532, 'dp', 'B'], [-0.808, 0.51, 'as', 'B'], [-0.719, 0.523, 'dp', 'C'], [-0.71, 0.506, 'cp', 'C'],
  [-0.668, 0.532, 'dp', 'B'], [-0.644, 0.516, 'cp', 'B'], [-0.515, 0.507, 'dp', 'B'],
  [-0.668, 0.409, 'as', 'B'], [-0.53, 0.415, 'cp', 'B'],
  [-0.56, 0.368, 'dp', 'B'], [-0.62, 0.338, 'dp', 'B'], [-0.59, 0.32, 'dp', 'B'], [-0.659, 0.303, 'as', 'C'],
  [-0.548, 0.245, 'as', 'B'], [-0.569, 0.219, 'cp', 'B'], [-0.56, 0.194, 'cp', 'B'],
  [-0.698, 0.204, 'cp', 'C'], [-0.698, 0.2, 'dp', 'C'],
  [-0.635, 0.132, 'dp', 'B'], [-0.614, 0.114, 'cp', 'B'],
  [-0.578, 0.075, 'as', 'C'], [-0.68, 0.039, 'as', 'C'], [-0.338, 0.077, 'dp', 'C'], [-0.389, 0.052, 'dp', 'C'],
  [-0.29, 0.045, 'cp', 'C'],
  [-0.629, 0.003, 'as', 'B'], [-0.554, 0.013, 'cp', 'B'], [-0.51, 0.02, 'as', 'B'], [-0.434, 0.006, 'dp', 'D'],
  [-0.404, 0.019, 'as', 'D'], [-0.329, 0.013, 'as', 'E'], [-0.254, 0.01, 'cp', 'E'], [-0.165, 0.023, 'as', 'D'],
  [-0.105, 0.006, 'as', 'E'], [-0.045, 0.003, 'dp', 'E'], [-0.2, 0.005, 'dp', 'E'], [-0.47, 0.01, 'cp', 'E'],
  [0.075, 0, 'sq', 'C'], [0.09, -0.013, 'sq', 'E'], [0.18, 0, 'ci', 'E'], [0.27, -0.003, 'di', 'D'],
  [0.36, 0, 'ci', 'E'], [0.344, 0.015, 'sq', 'B'], [0.449, -0.003, 'ci', 'D'], [0.494, 0, 'di', 'E'],
  [0.524, -0.013, 'ci', 'C'], [0.584, 0, 'sq', 'E'], [0.644, 0, 'di', 'D'], [0.719, 0.006, 'ci', 'B'],
  [0.817, 0, 'tr', 'D'], [0.913, 0.01, 'sq', 'B'], [0.943, -0.006, 'sq', 'C'], [1.033, -0.006, 'ci', 'C'],
  [1.123, 0, 'tr', 'B'], [1.183, 0.015, 'ci', 'B'], [1.183, -0.013, 'sq', 'C'], [1.302, 0, 'tr', 'B'],
  [1.452, -0.006, 'ci', 'C'], [1.512, -0.013, 'tr', 'B'], [1.602, -0.01, 'tr', 'C'], [1.751, -0.003, 'tr', 'C'],
  [1.811, -0.006, 'tr', 'B'], [1.9, -0.003, 'tr', 'B'],
];

const FONT = '"Liberation Sans", Arial, Helvetica, sans-serif';
const HOLLOW = ['as', 'dp', 'cp'];

function Mark({ cx, cy, shape, color, k, sw = 1 }: any) {
  if (cx == null || cy == null) return null;
  const op = HOLLOW.includes(shape) ? 0.85 : 1;
  switch (shape) {
    case 'sq': {
      const s = 8.6 * k;
      return <rect x={cx - s / 2} y={cy - s / 2} width={s} height={s} fill={color} />;
    }
    case 'di': {
      const w = 3.3 * k, h = 4.2 * k;
      return <polygon points={`${cx},${cy - h} ${cx + w},${cy} ${cx},${cy + h} ${cx - w},${cy}`} fill={color} />;
    }
    case 'tr': {
      const w = 5.2 * k;
      return <polygon points={`${cx},${cy - w * 1.15} ${cx + w},${cy + w * 0.58} ${cx - w},${cy + w * 0.58}`} fill={color} />;
    }
    case 'ci':
      return <circle cx={cx} cy={cy} r={4.1 * k} fill={color} />;
    case 'as': {
      const a = 5 * k, d = a * 0.707;
      return (
        <g stroke={color} strokeWidth={sw} opacity={op}>
          <line x1={cx - a} y1={cy} x2={cx + a} y2={cy} />
          <line x1={cx} y1={cy - a} x2={cx} y2={cy + a} />
          <line x1={cx - d} y1={cy - d} x2={cx + d} y2={cy + d} />
          <line x1={cx - d} y1={cy + d} x2={cx + d} y2={cy - d} />
        </g>
      );
    }
    case 'dp': {
      const w = 5.6 * k, h = 6 * k;
      return (
        <g stroke={color} strokeWidth={sw} fill="none" opacity={op}>
          <polygon points={`${cx},${cy - h} ${cx + w},${cy} ${cx},${cy + h} ${cx - w},${cy}`} />
          <line x1={cx - w} y1={cy} x2={cx + w} y2={cy} />
          <line x1={cx} y1={cy - h} x2={cx} y2={cy + h} />
        </g>
      );
    }
    case 'cp': {
      const r = 4.3 * k;
      return (
        <g stroke={color} strokeWidth={sw} fill="none" opacity={op}>
          <circle cx={cx} cy={cy} r={r} />
          <line x1={cx - r} y1={cy} x2={cx + r} y2={cy} />
          <line x1={cx} y1={cy - r} x2={cx} y2={cy + r} />
        </g>
      );
    }
    default:
      return null;
  }
}

type PanelCfg = {
  data: Pt[];
  box: [number, number, number, number];
  xDomain: [number, number];
  yDomain: [number, number];
  xTicks: number[];
  yTicks: number[];
  xDec: number;
  yDec: number;
  font: number;
  k?: number;
  padL?: number;
  padB?: number;
  zeroW?: number;
  big?: boolean;
};

const panels: PanelCfg[] = [
  { data: undergradsSms, box: [55, 5, 372, 288], xDomain: [-0.953, 3.576], yDomain: [-0.246, 0.56],
    xTicks: [0, 1, 2, 3], yTicks: [-0.2, 0, 0.2, 0.4], xDec: 0, yDec: 1, font: 19 },
  { data: callCenter, box: [433, 5, 758, 288], xDomain: [-0.784, 0.789], yDomain: [-0.1585, 0.704],
    xTicks: [-0.5, 0, 0.5], yTicks: [0, 0.2, 0.4, 0.6], xDec: 1, yDec: 1, font: 19 },
  { data: diary, box: [825, 5, 1143, 288], xDomain: [-0.763, 3.84], yDomain: [-0.2, 0.937],
    xTicks: [0, 1, 2, 3], yTicks: [-0.2, 0, 0.2, 0.4, 0.6, 0.8], xDec: 0, yDec: 1, font: 19 },
  { data: stAndrews, box: [1210, 5, 1535, 288], xDomain: [-0.0905, 0.1312], yDomain: [-0.369, 0.715],
    xTicks: [-0.05, 0, 0.05, 0.1], yTicks: [-0.2, 0, 0.2, 0.4, 0.6], xDec: 2, yDec: 1, font: 19 },
  { data: kenya, box: [65, 342, 372, 627], xDomain: [-0.0862, 0.0473], yDomain: [-0.1414, 0.1424],
    xTicks: [-0.08, -0.06, -0.04, -0.02, 0, 0.02, 0.04], yTicks: [-0.1, -0.05, 0, 0.05, 0.1], xDec: 2, yDec: 2, font: 17 },
  { data: romania, box: [55, 680, 372, 963], xDomain: [-0.1926, 0.2339], yDomain: [-0.251, 0.4967],
    xTicks: [-0.1, 0, 0.1, 0.2], yTicks: [-0.2, 0, 0.2, 0.4], xDec: 1, yDec: 1, font: 19 },
  { data: reality, box: [1205, 342, 1535, 627], xDomain: [-0.1012, 0.1239], yDomain: [-0.1738, 0.6563],
    xTicks: [-0.1, -0.05, 0, 0.05, 0.1], yTicks: [0, 0.2, 0.4, 0.6], xDec: 2, yDec: 1, font: 19 },
  { data: copenhagenCall, box: [1205, 679, 1535, 963], xDomain: [-0.9595, 2.008], yDomain: [-0.0642, 1.036],
    xTicks: [-0.5, 0, 0.5, 1, 1.5], yTicks: [0, 0.2, 0.4, 0.6, 0.8, 1.0], xDec: 1, yDec: 1, font: 19 },
  { data: center, box: [545, 383, 1134, 910], xDomain: [-0.3233, 2.4088], yDomain: [-0.0876, 0.2224],
    xTicks: [0, 0.5, 1, 1.5, 2], yTicks: [-0.05, 0, 0.05, 0.1, 0.15, 0.2], xDec: 1, yDec: 2, font: 24,
    k: 2, padL: 100, padB: 72, zeroW: 3.5, big: true },
];

const titles = [
  { text: 'Undergrads SMS', x: 355, y: 43 },
  { text: 'Call center', x: 741, y: 43 },
  { text: 'Diary', x: 1126, y: 43 },
  { text: 'St Andrews', x: 1511, y: 43 },
  { text: 'Kenya', x: 355, y: 382 },
  { text: 'Romania', x: 355, y: 717 },
  { text: 'Reality', x: 1511, y: 382 },
  { text: 'Copenhagen call', x: 1511, y: 717 },
];

function Panel({ cfg }: { cfg: PanelCfg }) {
  const [L, T, R, B] = cfg.box;
  const padL = cfg.padL ?? 60;
  const padB = cfg.padB ?? 34;
  const padT = 4, padR = 4;
  const k = cfg.k ?? 1;
  const pts = cfg.data.map(([x, y, a, c]) => ({ x, y, a, c }));
  const tickStyle = { fill: '#4D4D4D', fontSize: cfg.font, fontFamily: FONT };
  return (
    <div style={{ position: 'absolute', left: L - padL, top: T - padT }}>
      <ScatterChart width={R - L + padL + padR} height={B - T + padT + padB}
        margin={{ top: padT, right: padR, bottom: 0, left: 0 }}>
        <CartesianGrid stroke="#EBEBEB" strokeWidth={1} />
        <XAxis type="number" dataKey="x" domain={cfg.xDomain} ticks={cfg.xTicks} allowDataOverflow interval={0}
          tickFormatter={(v: number) => v.toFixed(cfg.xDec)} axisLine={false} tickLine={{ stroke: '#333333' }}
          tickSize={4} tickMargin={cfg.big ? 4 : 1} height={padB} tick={tickStyle}>
          {cfg.big && (
            <Label value="Evader's influence change" position="center" dy={9}
              style={{ fill: '#000', fontSize: 30, fontFamily: FONT }} />
          )}
        </XAxis>
        <YAxis type="number" dataKey="y" domain={cfg.yDomain} ticks={cfg.yTicks} allowDataOverflow interval={0}
          tickFormatter={(v: number) => v.toFixed(cfg.yDec)} axisLine={false} tickLine={{ stroke: '#333333' }}
          tickSize={4} tickMargin={cfg.big ? 3 : 2} width={padL} tick={tickStyle}>
          {cfg.big && (
            <Label value="Evader's ranking change" angle={-90} position="center" dx={-29}
              style={{ fill: '#000', fontSize: 30, fontFamily: FONT, textAnchor: 'middle' }} />
          )}
        </YAxis>
        <ReferenceLine x={0} stroke="#ABABAB" strokeWidth={cfg.zeroW ?? 1.2} />
        <ReferenceLine y={0} stroke="#ABABAB" strokeWidth={cfg.zeroW ?? 1.2} />
        <Scatter data={pts} isAnimationActive={false}
          shape={(p: any) => (
            <Mark cx={p.cx} cy={p.cy} shape={p.payload.a} color={COLORS[p.payload.c]} k={k} sw={cfg.big ? 1.3 : 1} />
          )} />
        <ReferenceArea x1={cfg.xDomain[0]} x2={cfg.xDomain[1]} y1={cfg.yDomain[0]} y2={cfg.yDomain[1]}
          fill="none" fillOpacity={0} stroke="#000" strokeWidth={2.5} ifOverflow="visible" />
      </ScatterChart>
    </div>
  );
}

function Overlay() {
  const rowY = [1035, 1071];
  // column positions of the action legend
  const cols = [[150, 206], [410, 466], [726, 783], [1058, 1115]];
  const actionPos = [[0, 0], [0, 1], [1, 0], [1, 1], [2, 0], [2, 1], [3, 0]];
  const colorX = [[150, 206], [487, 543], [773, 830], [1008, 1064]];
  return (
    <svg width={1519} height={1171} style={{ position: 'absolute', left: 0, top: 0, pointerEvents: 'none' }}>
      {titles.map((t) => (
        <text key={t.text} x={t.x} y={t.y} textAnchor="end" fontSize={32} fontFamily={FONT} fill="#000">{t.text}</text>
      ))}
      {actionNames.map((name, i) => {
        const [c, r] = actionPos[i];
        const cy = rowY[r];
        return (
          <g key={name}>
            <Mark cx={cols[c][0]} cy={cy} shape={actionShapes[i]} color="#000" k={2.7} sw={1.2} />
            <text x={cols[c][1]} y={cy + 13} fontSize={36} fontFamily={FONT} fill="#000">{name}</text>
          </g>
        );
      })}
      {centralityNames.map((name, i) => (
        <g key={name}>
          <circle cx={colorX[i][0]} cy={1151} r={12} fill={COLORS[centralityKeys[i]]} />
          <text x={colorX[i][1]} y={1163} fontSize={36} fontFamily={FONT} fill="#000">{name}</text>
        </g>
      ))}
    </svg>
  );
}

export default function App() {
  return (
    <div style={{ position: 'absolute', left: 0, top: 0, width: 1519, height: 1171, overflow: 'hidden', background: '#fff', fontFamily: FONT }}>
      {panels.map((p, i) => <Panel key={i} cfg={p} />)}
      <Overlay />
    </div>
  );
}
